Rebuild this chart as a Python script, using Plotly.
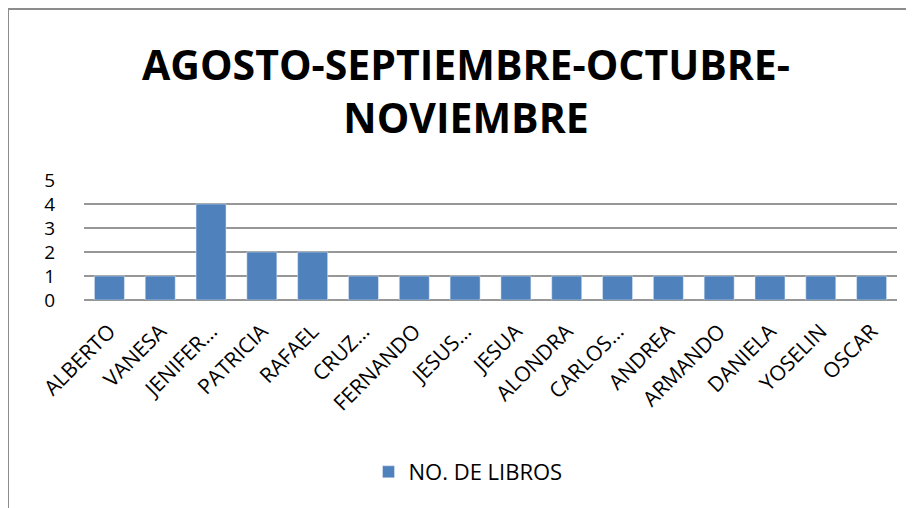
import plotly.graph_objects as go

nombres = [
    "ALBERTO", "VANESA", "JENIFER…", "PATRICIA", "RAFAEL", "CRUZ…",
    "FERNANDO", "JESUS…", "JESUA", "ALONDRA", "CARLOS…", "ANDREA",
    "ARMANDO", "DANIELA", "YOSELIN", "OSCAR",
]
libros = [1, 1, 4, 2, 2, 1, 1, 1, 1, 1, 1, 1, 1, 1, 1, 1]
y_ticks = [0, 1, 2, 3, 4, 5]

BAR = "#4F81BD"
GRID = "#979797"
FONT = "Open Sans, Liberation Sans, sans-serif"

# page body has an 8px margin, so the figure sits 8px right/down
OFF = 8
W, H = 914, 508
L, R, T, B = 84 - OFF, 17 + OFF, 180 - OFF, 208 + OFF
pw, ph = W - L - R, H - T - B

fig = go.Figure(
    go.Bar(
        x=nombres,
        y=libros,
        name="NO. DE LIBROS",
        marker=dict(color=BAR),
    )
)

fig.update_layout(
    width=W,
    height=H,
    margin=dict(l=L, r=R, t=T, b=B),
    paper_bgcolor="white",
    plot_bgcolor="white",
    bargap=0.41,
    font=dict(family=FONT, color="black"),
    title=dict(
        text="AGOSTO-SEPTIEMBRE-OCTUBRE-<br>NOVIEMBRE",
        x=(466 - OFF) / W,
        xanchor="center",
        xref="container",
        y=1 - (80 - OFF) / H,
        yref="container",
        yanchor="middle",
        font=dict(family=FONT, size=41, color="black", weight="bold"),
    ),
    showlegend=True,
    legend=dict(
        orientation="h",
        x=(468 - 84) / pw,
        xanchor="center",
        y=-(472 - 300) / ph,
        yanchor="middle",
        font=dict(size=22, color="black"),
    ),
    shapes=[
        dict(
            type="rect",
            xref="paper",
            yref="paper",
            x0=(8 - 84) / pw,
            x1=1.3,
            y0=-3,
            y1=(300 - 9) / ph,
            line=dict(color="#8c8c8c", width=2),
            layer="below",
        )
    ],
)

fig.update_xaxes(
    tickangle=-45,
    tickfont=dict(size=21, color="black"),
    showline=False,
    showgrid=False,
    ticks="",
    ticklabelstandoff=14,
)
fig.update_yaxes(
    range=[0, 5],
    tickvals=y_ticks,
    tickfont=dict(size=19, color="black"),
    showgrid=True,
    gridcolor=GRID,
    gridwidth=2,
    zeroline=True,
    zerolinecolor=GRID,
    zerolinewidth=2,
    ticks="",
    ticklabelstandoff=28,
)

fig.write_html("out.html")
